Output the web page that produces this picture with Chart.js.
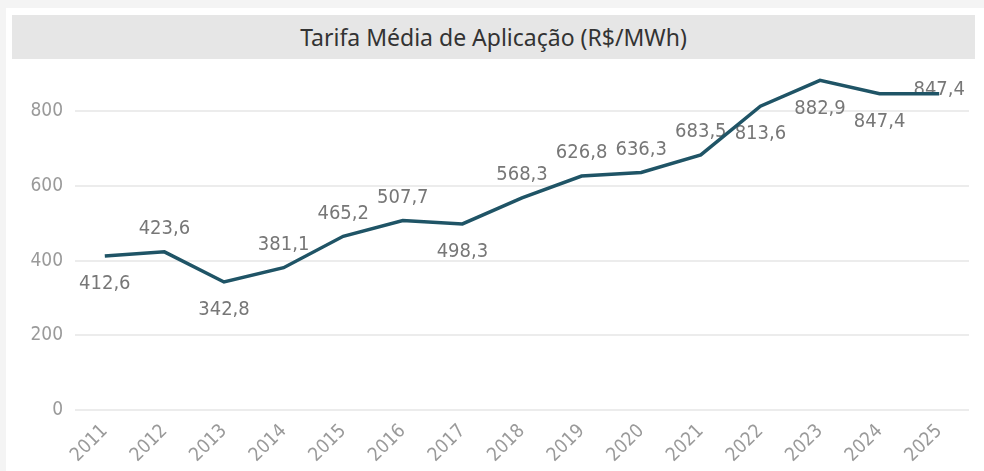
<!DOCTYPE html>
<html>
<head>
<meta charset="utf-8">
<script src="https://cdn.jsdelivr.net/npm/chart.js@4.4.1/dist/chart.umd.min.js"></script>
<style>
  body { margin: 0; background: #f4f4f4; width: 984px; height: 471px; overflow: hidden; position: relative; }
  .card { position: absolute; left: 6px; top: 8px; right: 0; bottom: 0; background: #fff; }
  .title { position: absolute; left: 12px; top: 15px; width: 963px; height: 44px; background: #e6e6e6;
    font-family: 'Noto Sans', sans-serif; font-size: 23px; color: #333; text-align: center; line-height: 44px; }
  .wrap { position: absolute; left: 0; top: 60px; width: 984px; height: 411px; }
</style>
</head>
<body>
<div class="card"></div>
<div class="title">Tarifa Média de Aplicação (R$/MWh)</div>
<div class="wrap"><canvas id="tarifaChart"></canvas></div>
<script>
  const years = ['2011', '2012', '2013', '2014', '2015', '2016', '2017', '2018',
    '2019', '2020', '2021', '2022', '2023', '2024', '2025'];
  const tarifa = [412.6, 423.6, 342.8, 381.1, 465.2, 507.7, 498.3, 568.3,
    626.8, 636.3, 683.5, 813.6, 882.9, 847.4, 847.4];
  const yTicks = [0, 200, 400, 600, 800];

  // where each value label sits relative to its point
  const labelPlace = ['below', 'above', 'below', 'above', 'above', 'above', 'below', 'above',
    'above', 'above', 'above', 'below', 'below', 'below', 'center'];

  const valueLabels = {
    id: 'valueLabels',
    beforeDatasetsDraw(chart) {
      const ctx = chart.ctx;
      const meta = chart.getDatasetMeta(0);
      ctx.save();
      ctx.font = '20px "DejaVu Sans Condensed", "DejaVu Sans", sans-serif';
      ctx.fillStyle = '#777777';
      ctx.textAlign = 'center';
      ctx.textBaseline = 'middle';
      meta.data.forEach((pt, i) => {
        let dy = -23;
        if (labelPlace[i] === 'below') dy = 28;
        if (labelPlace[i] === 'center') dy = -4;
        const txt = tarifa[i].toFixed(1).replace('.', ',');
        ctx.fillText(txt, pt.x, pt.y + dy);
      });
      ctx.restore();
    }
  };

  const data = {
    labels: years,
    datasets: [{
      data: tarifa,
      borderColor: '#1f5466',
      borderWidth: 3.5,
      pointRadius: 0,
      tension: 0,
      fill: false
    }]
  };

  const config = {
    type: 'line',
    data,
    plugins: [valueLabels],
    options: {
      responsive: true,
      maintainAspectRatio: false,
      animation: false,
      layout: { padding: { top: 14, right: 15, left: 0, bottom: 0 } },
      plugins: {
        legend: { display: false },
        tooltip: { enabled: false }
      },
      scales: {
        x: {
          offset: true,
          grid: { display: false },
          border: { display: false },
          afterFit: s => { s.height = 61; },
          ticks: {
            minRotation: 45,
            maxRotation: 45,
            padding: 2,
            color: '#9a9a9a',
            font: { family: '"DejaVu Sans Condensed", "DejaVu Sans"', size: 19 }
          }
        },
        y: {
          min: 0,
          max: 900,
          afterFit: s => { s.width = 75; },
          afterBuildTicks: s => { s.ticks = yTicks.map(v => ({ value: v })); },
          grid: { color: '#ececec', lineWidth: 2, drawTicks: false },
          border: { display: false },
          ticks: {
            padding: 12,
            color: '#9a9a9a',
            font: { family: '"DejaVu Sans Condensed", "DejaVu Sans"', size: 19, lineHeight: 0.05 }
          }
        }
      }
    }
  };

  var tarifaChart = new Chart(document.getElementById('tarifaChart'), config);
</script>
</body>
</html>
